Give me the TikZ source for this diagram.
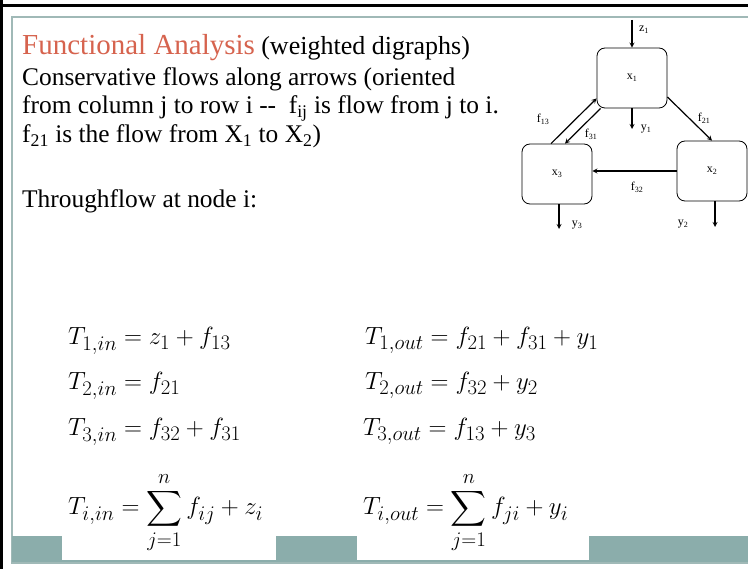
\documentclass[tikz,border=0pt]{standalone}
\usepackage{fontspec}
\setmainfont{Liberation Serif}
\usepackage{amsmath}
\usepackage{xcolor}
\usepackage{tikz}
\usetikzlibrary{arrows, positioning}
\definecolor{titlered}{RGB}{214,99,78}
\definecolor{barteal}{RGB}{139,173,171}
\definecolor{frameline}{RGB}{160,185,183}

\begin{document}
\begin{tikzpicture}[
    x=1pt, y=-1pt,
    block/.style={rectangle, draw, thick, rounded corners=8pt, minimum width=70pt, minimum height=60pt, font=\fontsize{12}{14}\selectfont},
    arrow/.style={line width=1.2pt,->,>=stealth},
    lbl/.style={font=\fontsize{12}{14}\selectfont, inner sep=0pt},
    txt/.style={anchor=base west, inner sep=0pt, font=\fontsize{25.4}{29}\selectfont},
    eq/.style={anchor=base west, inner sep=0pt, font=\fontsize{28}{32}\selectfont}
]
\useasboundingbox (0,0) rectangle (748,569);

% Slide frame and footer bar
\fill[black] (0,0) rectangle (3,569);
\fill[black] (0,4) rectangle (748,7);
\draw[frameline, line width=1.2pt] (748,17) -- (12,17) -- (12,563) -- (748,563);
\fill[barteal] (12,536) rectangle (748,562);
\fill[white] (62,536) rectangle (276,560);
\fill[white] (357,536) rectangle (589,560);

% Text block
\node[txt] (title) at (22,55) {\textcolor{titlered}{\fontsize{29}{32}\selectfont Functional Analysis} {\fontsize{26}{29}\selectfont(weighted digraphs)}};
\node[txt] (line1) at (22,86) {Conservative flows along arrows (oriented};
\node[txt] (line2) at (22,114) {from column j to row i -{}-\ \ f\textsubscript{ij} is flow from j to i.};
\node[txt] (line3) at (22,143) {f\textsubscript{21} is the flow from X\textsubscript{1} to X\textsubscript{2})};
\node[txt] (thru) at (22,208) {Throughflow at node i:};

% Digraph
\node[block] (x1) at (632,78) {x\textsubscript{1}};
\node[block] (x3) at (557,174) {x\textsubscript{3}};
\node[block] (x2) at (712,171) {x\textsubscript{2}};

\coordinate (z1in) at (632,20);
\coordinate (y1out) at (632,129);
\coordinate (y2out) at (715,227);
\coordinate (y3out) at (559,229);

\draw [arrow] (z1in) -- (x1);
\draw [arrow] (x1) -- (y1out);
\draw [arrow] ([yshift=-19pt]x1.east) -- (x2.north);
\draw [arrow] ([xshift=-6pt]x3.north) -- ([yshift=10pt]x1.south west);
\draw [arrow] ([xshift=4pt]x1.south west) -- ([xshift=8pt]x3.north);
\draw [arrow] (x2.west) -- (x3.east |- x2.west);
\draw [arrow] ([xshift=3pt]x2.south) -- (y2out);
\draw [arrow] ([xshift=2pt]x3.south) -- (y3out);

\node[lbl] (z1lbl) at (644,30) {z\textsubscript{1}};
\node[lbl] (y1lbl) at (646,129) {y\textsubscript{1}};
\node[lbl] (f21lbl) at (704,118) {f\textsubscript{21}};
\node[lbl] (f13lbl) at (543,119) {f\textsubscript{13}};
\node[lbl] (f31lbl) at (591,134) {f\textsubscript{31}};
\node[lbl] (f32lbl) at (637,187) {f\textsubscript{32}};
\node[lbl] (y3lbl) at (577,225) {y\textsubscript{3}};
\node[lbl] (y2lbl) at (683,224) {y\textsubscript{2}};

% Balance equations
\node[eq] (t1in) at (68,345) {$T_{1,in} = z_1 + f_{13}$};
\node[eq] (t2in) at (68,390) {$T_{2,in} = f_{21}$};
\node[eq] (t3in) at (68,436) {$T_{3,in} = f_{32} + f_{31}$};
\node[eq] (t1out) at (365,345) {$T_{1,out} = f_{21} + f_{31} + y_1$};
\node[eq] (t2out) at (365,390) {$T_{2,out} = f_{32} + y_2$};
\node[eq] (t3out) at (363,436) {$T_{3,out} = f_{13} + y_3$};

% General form
\node[eq] (sumin) at (68,515) {$T_{i,in} = \displaystyle\sum_{j=1}^{n} f_{ij} + z_i$};
\node[eq] (sumout) at (363,515) {$T_{i,out} = \displaystyle\sum_{j=1}^{n} f_{ji} + y_i$};
\end{tikzpicture}
\end{document}
